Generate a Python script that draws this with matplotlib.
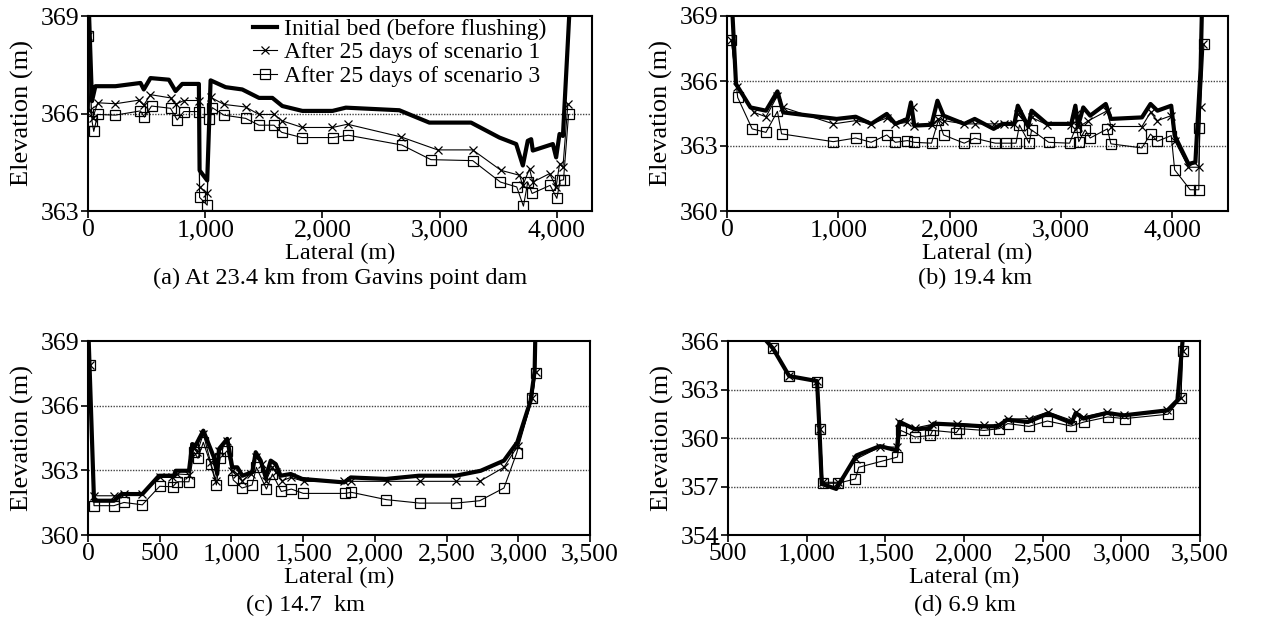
import matplotlib
matplotlib.use("Agg")
import matplotlib.pyplot as plt
from matplotlib.ticker import FuncFormatter

plt.rcParams['font.family'] = ['Liberation Serif', 'DejaVu Serif']
plt.rcParams['font.size'] = 18

# ---------------- (a) 23.4 km ----------------
a_bed_x = [0, 34, 63, 234, 448, 476, 533, 690, 747, 804, 946, 952, 1017, 1046, 1174, 1316, 1459, 1573,
           1658, 1829, 2086, 2200, 2656, 2912, 3268, 3510, 3653, 3710, 3752, 3781, 3795, 3966, 3994,
           4023, 4052, 4094, 4114]
a_bed_y = [370.0, 366.38, 366.84, 366.84, 366.94, 366.74, 367.09, 367.04, 366.69, 366.91, 366.91, 364.25,
           363.94, 367.02, 366.81, 366.74, 366.48, 366.48, 366.23, 366.08, 366.08, 366.18, 366.10, 365.72,
           365.72, 365.26, 365.06, 364.40, 365.16, 365.21, 364.86, 365.06, 364.65, 365.37, 365.31, 368.2, 369.6]
a_s1_x = [0, 15, 40, 83, 234, 433, 476, 533, 704, 747, 818, 946, 952, 1017, 1046, 1160, 1345, 1459, 1587,
          1658, 1829, 2086, 2214, 2670, 2983, 3282, 3524, 3681, 3710, 3767, 3795, 3938, 3994, 4023, 4052, 4094]
a_s1_y = [368.4, 366.1, 365.85, 366.33, 366.30, 366.41, 366.26, 366.58, 366.48, 366.28, 366.40, 366.40,
          363.74, 363.54, 366.50, 366.28, 366.20, 365.97, 365.97, 365.77, 365.57, 365.57, 365.67, 365.28,
          364.88, 364.88, 364.25, 364.10, 363.79, 364.30, 363.89, 364.15, 363.74, 364.45, 364.35, 366.28]
a_s3_x = [0, 34, 49, 83, 234, 447, 482, 542, 704, 761, 818, 946, 952, 1017, 1032, 1060, 1160, 1345, 1459,
          1587, 1653, 1824, 2091, 2222, 2678, 2926, 3282, 3519, 3658, 3715, 3752, 3789, 3943, 4000, 4029,
          4057, 4100]
a_s3_y = [368.38, 365.77, 365.45, 365.97, 365.95, 366.08, 365.89, 366.23, 366.16, 365.80, 366.06, 366.06,
          363.42, 363.18, 365.82, 366.18, 365.95, 365.85, 365.64, 365.64, 365.42, 365.26, 365.26, 365.33,
          365.03, 364.58, 364.55, 363.89, 363.74, 363.15, 363.89, 363.54, 363.79, 363.39, 363.94, 363.96,
          365.97]

# ---------------- (b) 19.4 km ----------------
b_bed_x = [40, 81, 211, 350, 453, 505, 985, 1156, 1295, 1435, 1512, 1620, 1652, 1682, 1837, 1890, 1945,
           2131, 2225, 2395, 2472, 2581, 2612, 2705, 2736, 2875, 3092, 3129, 3154, 3200, 3262, 3402, 3448,
           3727, 3804, 3866, 3990, 4021, 4145, 4207, 4254, 4269]
b_bed_y = [370.0, 365.86, 364.78, 364.63, 365.52, 364.55, 364.25, 364.35, 364.02, 364.48, 364.02, 364.25,
           365.01, 363.94, 363.98, 365.09, 364.40, 364.02, 364.25, 363.79, 364.02, 364.02, 364.86, 363.90,
           364.63, 364.02, 364.02, 364.86, 363.94, 364.78, 364.40, 364.94, 364.25, 364.32, 364.94, 364.63,
           364.86, 363.48, 362.17, 362.25, 366.6, 370.0]
b_s1_x = [40, 87, 242, 350, 453, 505, 955, 1156, 1295, 1435, 1512, 1620, 1667, 1682, 1837, 1899, 1945,
          2131, 2225, 2395, 2488, 2581, 2612, 2705, 2736, 2875, 3092, 3138, 3154, 3247, 3417, 3448, 3727,
          3804, 3866, 3990, 4021, 4145, 4238, 4254, 4275]
b_s1_y = [367.88, 365.73, 364.55, 364.35, 365.32, 364.78, 364.02, 364.17, 364.02, 364.29, 364.02, 364.09,
          364.78, 363.94, 363.98, 364.25, 364.17, 364.02, 364.02, 364.02, 364.02, 364.02, 364.48, 363.90,
          364.32, 363.98, 363.98, 364.48, 363.86, 364.17, 364.63, 363.90, 363.90, 364.55, 364.17, 364.40,
          363.25, 362.02, 362.02, 364.81, 367.7]
b_s3_x = [40, 96, 226, 350, 453, 490, 955, 1156, 1295, 1435, 1512, 1620, 1682, 1837, 1899, 1945, 2131,
          2225, 2410, 2503, 2596, 2627, 2714, 2736, 2890, 3077, 3138, 3160, 3216, 3262, 3417, 3448, 3727,
          3804, 3866, 3990, 4021, 4160, 4238, 4244, 4284]
b_s3_y = [367.88, 365.24, 363.79, 363.63, 364.60, 363.56, 363.20, 363.37, 363.17, 363.51, 363.17, 363.25,
          363.17, 363.13, 364.20, 363.51, 363.13, 363.36, 363.13, 363.13, 363.13, 363.97, 363.13, 363.74,
          363.17, 363.13, 363.90, 363.20, 363.74, 363.37, 363.79, 363.10, 362.91, 363.55, 363.22, 363.48,
          361.90, 360.98, 360.98, 363.83, 367.7]

# ---------------- (c) 14.7 km ----------------
c_bed_x = [0, 42, 181, 233, 379, 495, 599, 611, 704, 727, 750, 804, 878, 901, 913, 971, 1006, 1041, 1076,
           1146, 1169, 1204, 1239, 1274, 1309, 1343, 1413, 1494, 1785, 1832, 2077, 2307, 2564, 2738, 2900,
           2993, 3086, 3114, 3121]
c_bed_y = [370.0, 361.59, 361.59, 361.90, 361.90, 362.75, 362.75, 362.98, 362.98, 364.22, 364.15, 364.84,
           363.60, 362.83, 363.99, 364.46, 363.14, 363.14, 362.75, 362.91, 363.84, 363.45, 362.67, 363.45,
           363.29, 362.75, 362.83, 362.60, 362.44, 362.67, 362.60, 362.75, 362.75, 362.98, 363.45, 364.30,
           366.24, 367.60, 370.0]
c_s1_x = [14, 42, 181, 251, 379, 500, 588, 623, 704, 739, 762, 804, 855, 890, 913, 971, 1006, 1041, 1076,
          1134, 1169, 1216, 1239, 1286, 1309, 1355, 1413, 1506, 1785, 1832, 2082, 2315, 2564, 2731, 2900,
          2998, 3098, 3121]
c_s1_y = [367.9, 361.82, 361.82, 361.90, 361.90, 362.67, 362.67, 362.83, 362.80, 364.07, 363.84, 364.69,
          363.37, 362.52, 363.91, 364.35, 362.98, 362.83, 362.52, 362.83, 363.60, 363.29, 362.52, 363.14,
          362.91, 362.52, 362.67, 362.49, 362.49, 362.49, 362.49, 362.49, 362.49, 362.49, 363.14, 364.15,
          366.35, 367.56]
c_s3_x = [14, 42, 181, 251, 379, 500, 590, 623, 704, 739, 767, 804, 855, 895, 920, 971, 1013, 1074, 1144,
          1174, 1244, 1286, 1348, 1418, 1501, 1792, 1836, 2080, 2312, 2564, 2731, 2900, 2989, 3098, 3121]
c_s3_y = [367.9, 361.36, 361.36, 361.51, 361.40, 362.26, 362.24, 362.47, 362.47, 363.84, 363.56, 364.30,
          363.29, 362.32, 363.56, 363.91, 362.55, 362.18, 362.32, 363.14, 362.13, 362.83, 362.02, 362.13,
          361.93, 361.93, 361.98, 361.64, 361.48, 361.48, 361.59, 362.18, 363.81, 366.35, 367.53]

# ---------------- (d) 6.9 km ----------------
d_bed_x = [690, 786, 889, 1066, 1081, 1096, 1188, 1316, 1466, 1573, 1590, 1690, 1786, 1808, 1957, 2128,
           2214, 2274, 2406, 2534, 2684, 2710, 2759, 2908, 3015, 3293, 3357, 3379, 3389, 3393]
d_bed_y = [366.6, 365.54, 363.83, 363.52, 360.58, 357.16, 356.85, 358.92, 359.50, 359.23, 361.00, 360.53,
           360.62, 360.89, 360.82, 360.72, 360.72, 361.13, 360.99, 361.51, 360.93, 361.55, 361.20, 361.55,
           361.40, 361.71, 362.34, 364.82, 366.0, 367.3]
d_s1_x = [786, 889, 1066, 1086, 1103, 1199, 1316, 1466, 1573, 1590, 1690, 1797, 1957, 2128, 2224, 2278,
          2411, 2534, 2684, 2710, 2759, 2908, 3015, 3293, 3379, 3389]
d_s1_y = [365.54, 363.83, 363.52, 360.58, 357.26, 357.26, 358.71, 359.44, 359.44, 361.00, 360.62, 360.84,
          360.89, 360.78, 360.82, 361.16, 361.20, 361.61, 361.09, 361.61, 361.30, 361.61, 361.44, 361.76,
          362.50, 365.38]
d_s3_x = [786, 889, 1066, 1086, 1103, 1199, 1310, 1331, 1472, 1577, 1598, 1690, 1786, 1801, 1951, 1970,
          2128, 2224, 2278, 2413, 2530, 2680, 2763, 2914, 3021, 3297, 3379, 3389]
d_s3_y = [365.54, 363.83, 363.47, 360.58, 357.20, 357.20, 357.47, 358.19, 358.55, 358.82, 360.47, 360.06,
          360.16, 360.47, 360.33, 360.58, 360.47, 360.58, 360.89, 360.72, 361.05, 360.74, 360.99, 361.30,
          361.20, 361.47, 362.48, 365.38]

legend_labels = ["Initial bed (before flushing)", "After 25 days of scenario 1", "After 25 days of scenario 3"]
captions = ["(a) At 23.4 km from Gavins point dam", "(b) 19.4 km", "(c) 14.7  km", "(d) 6.9 km"]

W, H = 1272, 634
fig = plt.figure(figsize=(W / 100, H / 100), dpi=100)


def px_axes(l, r, t, b):
    return fig.add_axes([l / W, 1 - b / H, (r - l) / W, (b - t) / H])


comma = FuncFormatter(lambda v, p: f"{int(v):,}")


def draw(ax, bx, by, s1x, s1y, s3x, s3y, xlim, xticks, ylim, yticks):
    ax.plot(bx, by, color='black', lw=3.0, zorder=3, label=legend_labels[0])
    ax.plot(s1x, s1y, color='black', lw=0.8, marker='x', ms=6, mew=0.9, zorder=4, label=legend_labels[1])
    ax.plot(s3x, s3y, color='black', lw=0.8, marker='s', ms=6.5, mfc='none', mew=0.9, zorder=4,
            label=legend_labels[2])
    ax.set_xlim(*xlim)
    ax.set_ylim(*ylim)
    ax.set_xticks(xticks)
    ax.set_yticks(yticks)
    ax.xaxis.set_major_formatter(comma)
    for yv in yticks[1:-1]:
        ax.axhline(yv, color='#444444', lw=1.0, ls=(0, (1, 1)), zorder=1)
    ax.tick_params(direction='out', length=5, width=1.2, labelsize=18.5, pad=1)
    for sp in ax.spines.values():
        sp.set_linewidth(1.5)
    ax.set_xlabel("Lateral (m)", fontsize=17.5, labelpad=1)
    ax.set_ylabel("Elevation (m)", fontsize=19, labelpad=5)


axa = px_axes(88, 592, 16, 211)
draw(axa, a_bed_x, a_bed_y, a_s1_x, a_s1_y, a_s3_x, a_s3_y, (0, 4300), [0, 1000, 2000, 3000, 4000],
     (363, 369), [363, 366, 369])
axa.legend(loc='upper left', bbox_to_anchor=(0.30, 1.06), frameon=False, fontsize=17, handlelength=1.0,
           labelspacing=0.08, handletextpad=0.3, borderaxespad=0.2)

axb = px_axes(727, 1228, 16, 211)
draw(axb, b_bed_x, b_bed_y, b_s1_x, b_s1_y, b_s3_x, b_s3_y, (0, 4500), [0, 1000, 2000, 3000, 4000],
     (360, 369), [360, 363, 366, 369])

axc = px_axes(88, 590, 341, 535)
draw(axc, c_bed_x, c_bed_y, c_s1_x, c_s1_y, c_s3_x, c_s3_y, (0, 3500),
     [0, 500, 1000, 1500, 2000, 2500, 3000, 3500], (360, 369), [360, 363, 366, 369])

axd = px_axes(728, 1200, 341, 535)
draw(axd, d_bed_x, d_bed_y, d_s1_x, d_s1_y, d_s3_x, d_s3_y, (500, 3500),
     [500, 1000, 1500, 2000, 2500, 3000, 3500], (354, 366), [354, 357, 360, 363, 366])

fig.text(340 / W, 1 - 278 / H, captions[0], ha='center', va='center', fontsize=17.5)
fig.text(975 / W, 1 - 278 / H, captions[1], ha='center', va='center', fontsize=17.5)
fig.text(305 / W, 1 - 605 / H, captions[2], ha='center', va='center', fontsize=17.5)
fig.text(965 / W, 1 - 605 / H, captions[3], ha='center', va='center', fontsize=17.5)

fig.savefig("out.png", dpi=100)
